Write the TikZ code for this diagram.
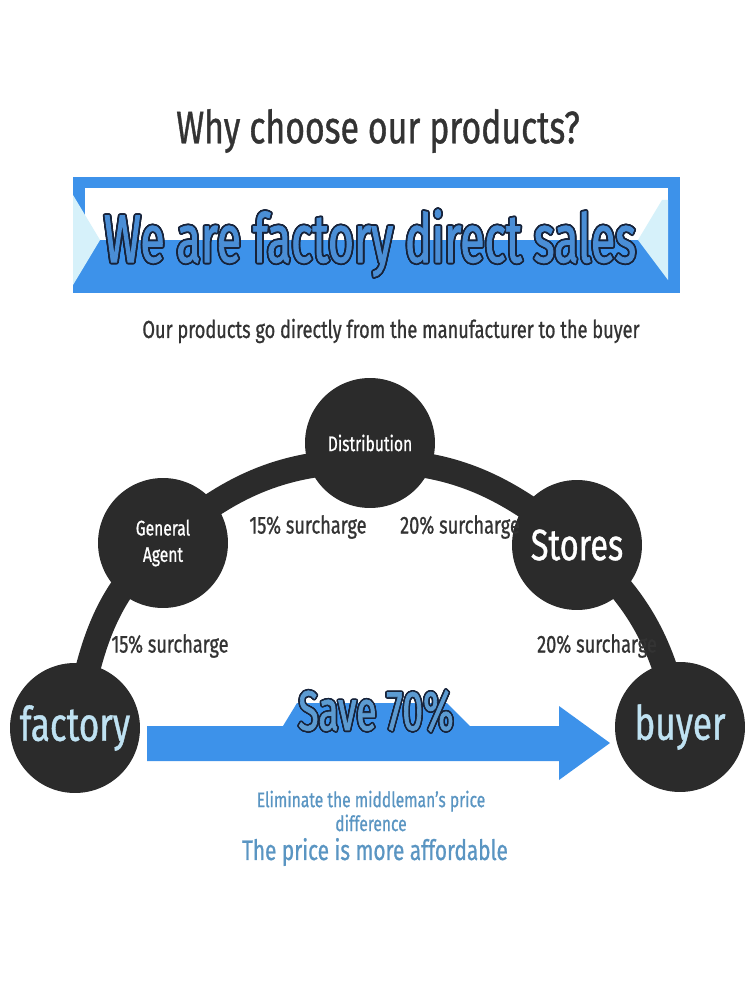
\documentclass[tikz,border=0pt]{standalone}
\usepackage{fontspec}
\setmainfont[FakeStretch=0.74,FakeBold=0.8]{Fira Sans}
\newfontfamily\slogfont[FakeStretch=0.66,FakeBold=1.2]{Fira Sans}
\usetikzlibrary{positioning,calc,backgrounds}

\definecolor{inkdark}{HTML}{2B2B2B}
\definecolor{textgray}{HTML}{333333}
\definecolor{bannerblue}{HTML}{3D92EA}
\definecolor{paleblue}{HTML}{D6F1FA}
\definecolor{letterblue}{HTML}{4A8ED6}
\definecolor{savefill}{HTML}{5C9BD2}
\definecolor{outlinenavy}{HTML}{17233A}
\definecolor{capblue}{HTML}{BFE2F2}
\definecolor{noteblue}{HTML}{5A95C2}

\tikzset{
	stage/.style={circle, fill=inkdark, minimum size=2.6cm, inner sep=0pt,
		text=white, align=center, font=\fontsize{12}{15}\selectfont},
	endstage/.style={stage, text=capblue, font=\fontsize{27}{30}\selectfont},
	surcharge/.style={text=textgray, font=\fontsize{14}{16}\selectfont},
	chain/.style={draw=inkdark, line width=0.5cm},
	slogan/.style={font=\slogfont\fontsize{38.5}{42}\selectfont},
	savings/.style={font=\slogfont\fontsize{32}{34}\selectfont},
	note/.style={text=noteblue, align=center}
}

\begin{document}
\begin{tikzpicture}[x=0.02cm, y=0.02cm]

	\useasboundingbox (0,0) rectangle (750,-1000);

	% heading
	\node[text=textgray, font=\fontsize{26}{30}\selectfont] (title) at (378,-131) {Why choose our products?};

	% banner
	\fill[bannerblue] (73,-177) rectangle (680,-293);
	\fill[white] (85,-188) rectangle (668,-240);
	\fill[paleblue] (73,-195) -- (100,-240) -- (73,-285) -- cycle;
	\fill[paleblue] (662,-200) -- (668,-200) -- (668,-280) -- (638,-240) -- cycle;

	\coordinate (bannermid) at (370,-243);
	\foreach \ang in {0,20,...,340}
		\node[slogan, text=outlinenavy] at ($(bannermid)+(\ang:1pt)$) {We are factory direct sales};
	\node[slogan, text=letterblue] (slogantext) at (bannermid) {We are factory direct sales};

	\node[text=textgray, font=\fontsize{14}{16}\selectfont] (subtitle) at (391,-331)
		{Our products go directly from the manufacturer to the buyer};

	% supply chain
	\node[endstage] (factory) at (75,-728) {factory};
	\node[stage] (agent) at (163,-543) {General\\Agent};
	\node[stage] (dist) at (370,-443) {Distribution};
	\node[stage, font=\fontsize{25}{28}\selectfont] (stores) at (577,-545) {Stores};
	\node[endstage] (buyer) at (680,-727) {buyer};

	\begin{scope}[on background layer]
		\draw[chain] (factory.center) to[out=79,in=221] (agent.center)
			to[out=41,in=180] ($(dist.center)+(0,-18)$)
			to[out=0,in=140] (stores.center)
			to[out=-40,in=101] (buyer.center);
	\end{scope}

	\node[surcharge] (s1) at (308,-527) {15\% surcharge};
	\node[surcharge] (s2) at (460,-527) {20\% surcharge};
	\node[surcharge] (s3) at (170,-646) {15\% surcharge};
	\node[surcharge] (s4) at (597,-646) {20\% surcharge};

	% direct arrow
	\fill[bannerblue] (147,-726) -- (283,-726) -- (297,-703) -- (447,-703) -- (470,-726)
		-- (559,-726) -- (559,-706) -- (610,-743) -- (559,-780) -- (559,-761) -- (147,-761) -- cycle;

	\coordinate (savemid) at (376,-711);
	\foreach \ang in {0,20,...,340}
		\node[savings, text=outlinenavy] at ($(savemid)+(\ang:0.9pt)$) {Save 70\%};
	\node[savings, text=savefill] (savetext) at (savemid) {Save 70\%};

	\node[note, font=\fontsize{12}{13.6}\selectfont] (elim) at (371,-811)
		{Eliminate the middleman's price\\difference};
	\node[note, font=\fontsize{16}{19}\selectfont] (afford) at (375,-852) {The price is more affordable};

\end{tikzpicture}
\end{document}
